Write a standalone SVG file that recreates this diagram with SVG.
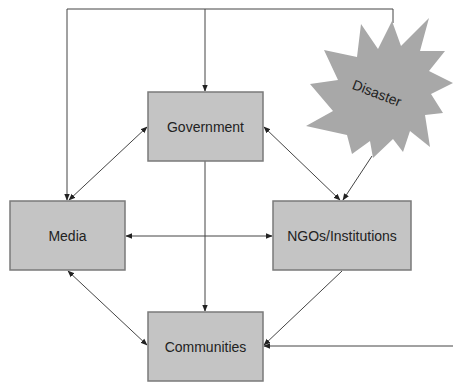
<svg xmlns="http://www.w3.org/2000/svg" width="453" height="382" viewBox="0 0 453 382">
  <style>
    .box { fill: #c4c4c4; stroke: #7a7a7a; stroke-width: 1.5; }
    .lbl { font-family: "Liberation Sans", Arial, sans-serif; font-size: 14px; fill: #222; text-anchor: middle; dominant-baseline: central; }
    .ln { fill: none; stroke: #444; stroke-width: 1; }
    .end { marker-end: url(#ah); }
    .both { marker-start: url(#ah); marker-end: url(#ah); }
  </style>
  <defs>
    <marker id="ah" viewBox="0 0 10 10" refX="9" refY="5" markerWidth="7" markerHeight="7" markerUnits="userSpaceOnUse" orient="auto-start-reverse">
      <path d="M0,1 L10,5 L0,9 z" fill="#222"/>
    </marker>
  </defs>

  <!-- connectors -->
  <g id="connectors">
    <polyline class="ln" points="393,23 393,9 67,9 67,200" marker-end="url(#ah)"/>
    <line class="ln end" x1="205" y1="9" x2="205" y2="91"/>
    <line class="ln both" x1="69" y1="200" x2="147" y2="127"/>
    <line class="ln both" x1="264" y1="127" x2="340" y2="200"/>
    <line class="ln end" x1="372" y1="156" x2="343" y2="200"/>
    <line class="ln both" x1="126" y1="236" x2="272" y2="236"/>
    <line class="ln end" x1="205" y1="161" x2="205" y2="311"/>
    <line class="ln both" x1="68" y1="271" x2="147" y2="345"/>
    <line class="ln end" x1="342" y1="271" x2="264" y2="345"/>
    <line class="ln end" x1="453" y1="346" x2="264" y2="346"/>
  </g>

  <g id="disaster">
    <polygon fill="#a8a8a8" points="392,21 401,46 429,18 420,51 445,51 429,71 453,83 431,94 443,113 425,115 430,147 410,131 403,152 393,139 373,158 370,141 352,154 347,135 306,126 333,111 310,84 338,80 324,50 357,57 361,24 378,49"/>
    <text class="lbl" x="377" y="93" font-size="14" transform="rotate(21 377 93)">Disaster</text>
  </g>

  <g id="government">
    <rect class="box" x="148" y="92" width="115" height="69"/>
    <text class="lbl" x="205.5" y="127">Government</text>
  </g>

  <g id="media">
    <rect class="box" x="10" y="201" width="115" height="69"/>
    <text class="lbl" x="67.5" y="236">Media</text>
  </g>

  <g id="ngos">
    <rect class="box" x="273" y="201" width="138" height="69"/>
    <text class="lbl" x="342" y="236">NGOs/Institutions</text>
  </g>

  <g id="communities">
    <rect class="box" x="148" y="312" width="115" height="69"/>
    <text class="lbl" x="205.5" y="347">Communities</text>
  </g>
</svg>
